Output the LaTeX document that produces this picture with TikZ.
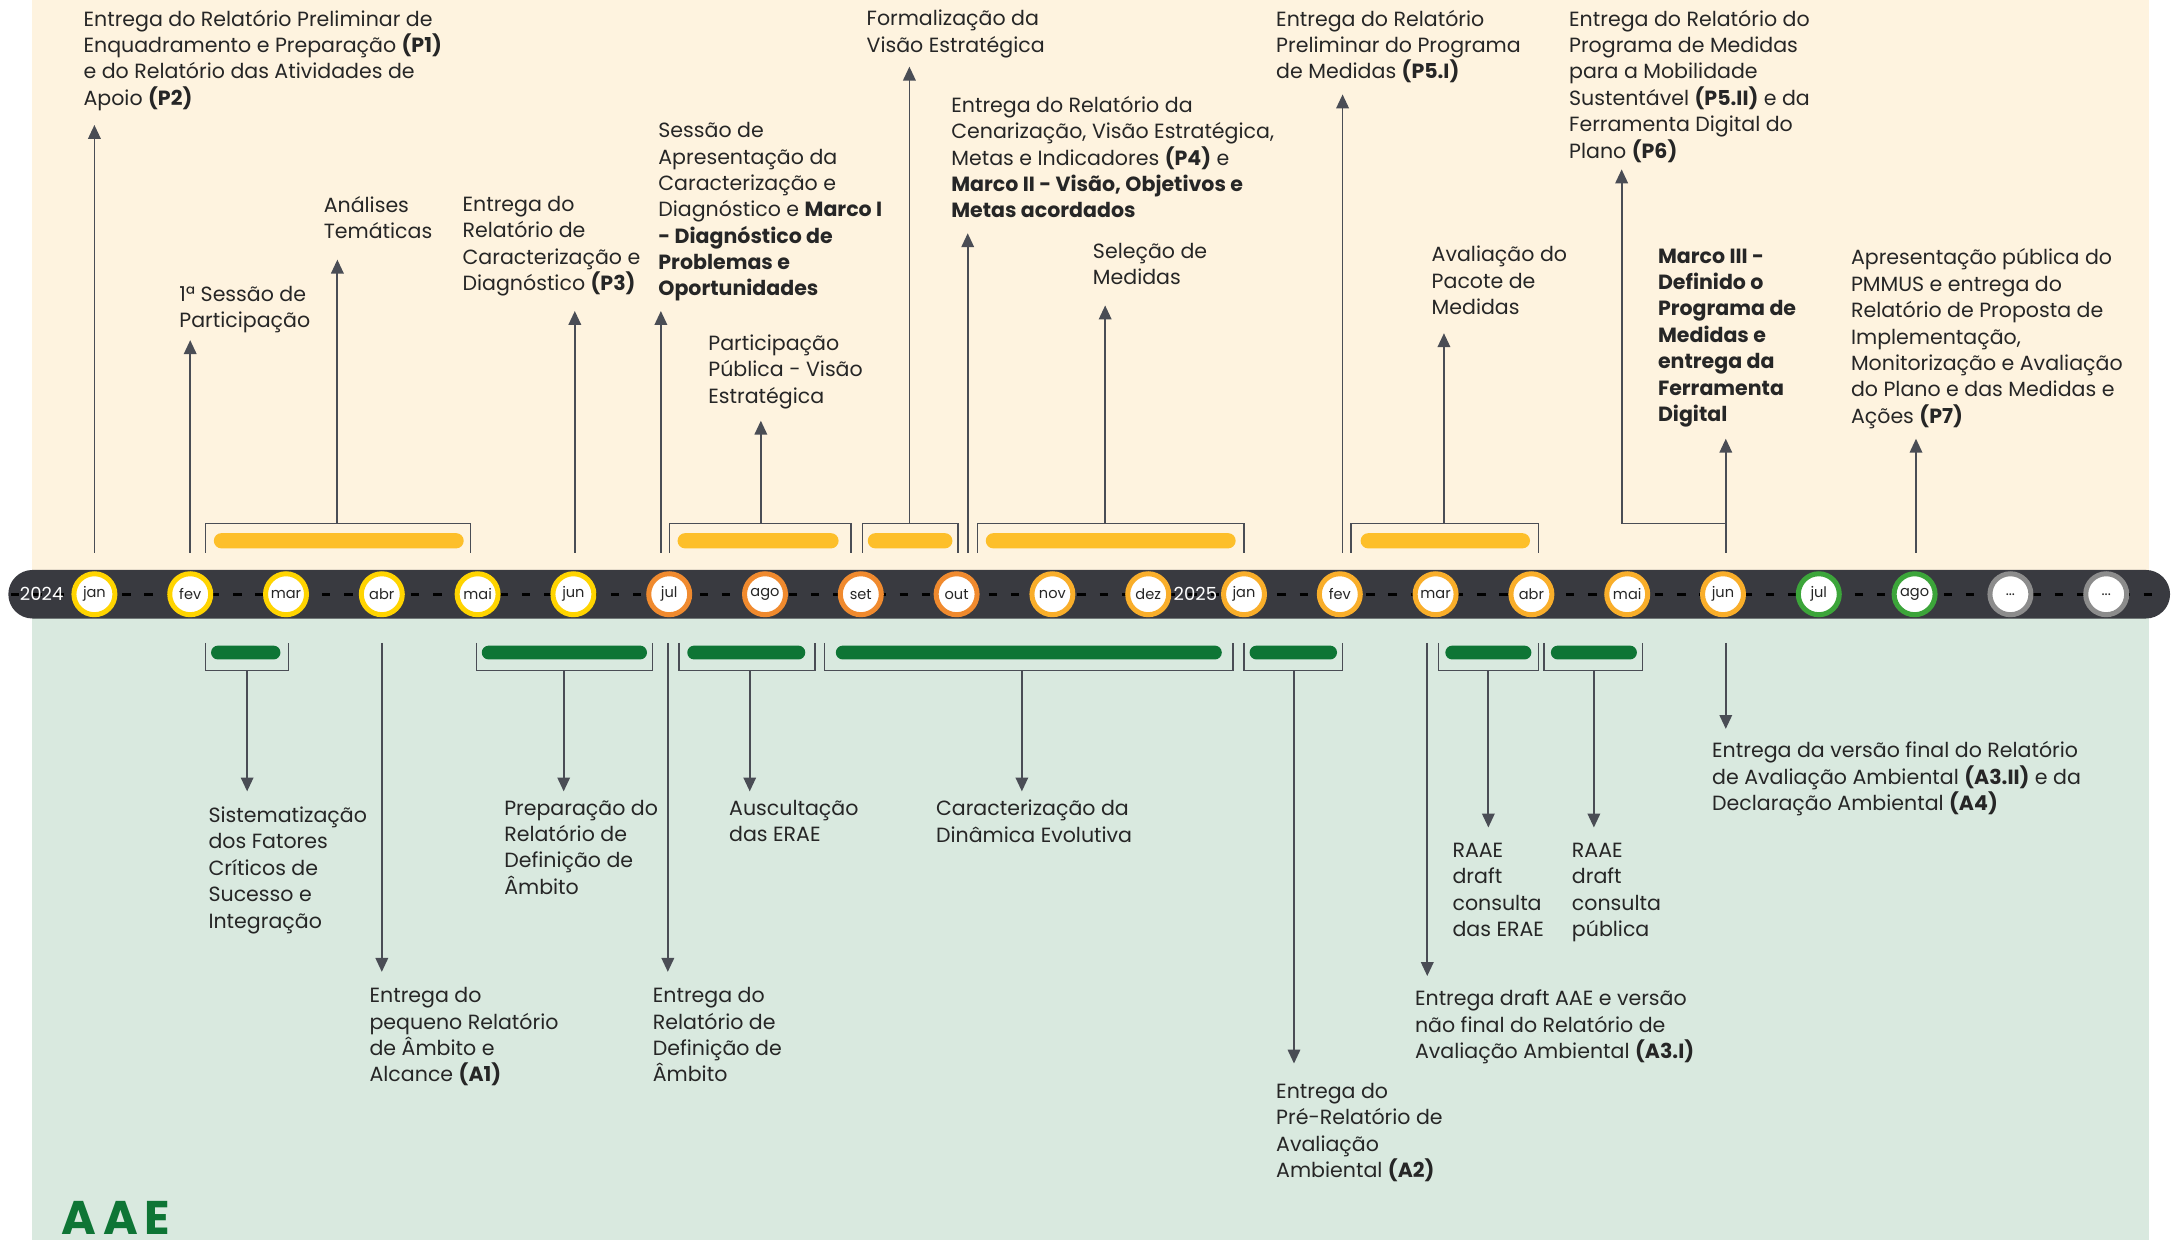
\documentclass[tikz,border=0pt]{standalone}
\usepackage{fontspec}
\setmainfont{Poppins}
\usetikzlibrary{arrows.meta,positioning,calc}
\definecolor{cream}{HTML}{FEF3DF}
\definecolor{mint}{HTML}{D9E9DF}
\definecolor{road}{HTML}{393A40}
\definecolor{lin}{HTML}{4A4D55}
\definecolor{txt}{HTML}{262626}
\definecolor{gold}{HTML}{FDBF2A}
\definecolor{leaf}{HTML}{0E7535}
\definecolor{cYel}{HTML}{FFD400}
\definecolor{cOra}{HTML}{F08A2E}
\definecolor{cAmb}{HTML}{F9AE2A}
\definecolor{cGre}{HTML}{3CA53A}
\definecolor{cGry}{HTML}{8C8C8C}
\newcommand{\moredots}{...}
\tikzstyle{lbl}=[anchor=north west, align=left, inner sep=0pt, text=txt, font=\fontsize{14.8}{19}\selectfont]
\tikzstyle{arr}=[draw=lin, line width=1.3pt, -{Triangle[width=9pt,length=10pt]}]
\tikzstyle{brk}=[draw=lin, line width=1pt]
\tikzstyle{month}=[circle, fill=white, line width=3.6pt, minimum size=29.5pt, inner sep=0pt, text=txt, font=\fontsize{10.5}{10.5}\selectfont]
\tikzstyle{yr}=[text=white, inner sep=0pt, font=\fontsize{13}{13}\selectfont]

\begin{document}
\begin{tikzpicture}[x=1pt,y=-1pt]
\useasboundingbox (0,0) rectangle (1568,893);
% backgrounds
\fill[cream](23,0)rectangle(1548,412);
\fill[mint](23,443)rectangle(1548,893);
% timeline
\fill[road, rounded corners=17.5pt](6,410.5)rectangle(1563,445.5);
\draw[black, line width=2pt, dash pattern=on 6pt off 10pt](8,428)--(1560,428);
\node[yr](y24)at(30,428){2024};
\node[yr](y25)at(861,428){2025};
\foreach \m/\c [count=\i from 0] in {jan/cYel,fev/cYel,mar/cYel,abr/cYel,mai/cYel,jun/cYel,jul/cOra,ago/cOra,set/cOra,out/cOra,nov/cAmb,dez/cAmb,jan/cAmb,fev/cAmb,mar/cAmb,abr/cAmb,mai/cAmb,jun/cAmb,jul/cGre,ago/cGre,\moredots/cGry,\moredots/cGry}
  \node[month, draw=\c](m\i)at(68+69*\i,428){\m};

% brackets above
\foreach \a/\b/\p/\q in {148/339/154/334, 482/613/488/604, 621/690/625/686, 704/896/710/890, 973/1108/980/1102}{
  \draw[brk](\a,398)--(\a,377)--(\b,377)--(\b,398);
  \fill[gold, rounded corners=5.5pt](\p,384)rectangle(\q,395);
}
% brackets below
\foreach \a/\b/\p/\q in {148/208/152/202, 343/470/347/466, 489/587/495/580, 594/888/602/880, 896/967/900/963, 1036/1108/1041/1103, 1112/1183/1117/1179}{
  \draw[brk](\a,463)--(\a,483)--(\b,483)--(\b,463);
  \fill[leaf, rounded corners=5pt](\p,465)rectangle(\q,475);
}

% labels above
\node[lbl](u1)at(60,7){Entrega do Relatório Preliminar de\\Enquadramento e Preparação \textbf{(P1)}\\e do Relatório das Atividades de\\Apoio \textbf{(P2)}};
\node[lbl](u2)at(129,206){1ª Sessão de\\Participação};
\node[lbl](u3)at(233,141){Análises\\Temáticas};
\node[lbl](u4)at(333,141){Entrega do\\Relatório de\\Caracterização e\\Diagnóstico \textbf{(P3)}};
\node[lbl](u5)at(474,88){Sessão de\\Apresentação da\\Caracterização e\\Diagnóstico e \textbf{Marco I}\\\textbf{- Diagnóstico de}\\\textbf{Problemas e}\\\textbf{Oportunidades}};
\node[lbl](u6)at(510,241){Participação\\Pública - Visão\\Estratégica};
\node[lbl](u7)at(624,7){Formalização da\\Visão Estratégica};
\node[lbl](u8)at(685,69){Entrega do Relatório da\\Cenarização, Visão Estratégica,\\Metas e Indicadores \textbf{(P4)} e\\\textbf{Marco II - Visão, Objetivos e}\\\textbf{Metas acordados}};
\node[lbl](u9)at(787,175){Seleção de\\Medidas};
\node[lbl](u10)at(919,7){Entrega do Relatório\\Preliminar do Programa\\de Medidas \textbf{(P5.I)}};
\node[lbl](u11)at(1031,177){Avaliação do\\Pacote de\\Medidas};
\node[lbl](u12)at(1130,7){Entrega do Relatório do\\Programa de Medidas\\para a Mobilidade\\Sustentável \textbf{(P5.II)} e da\\Ferramenta Digital do\\Plano \textbf{(P6)}};
\node[lbl, font=\fontsize{14.8}{19}\selectfont\bfseries](u13)at(1194,179){Marco III -\\Definido o\\Programa de\\Medidas e\\entrega da\\Ferramenta\\Digital};
\node[lbl](u14)at(1333,179){Apresentação pública do\\PMMUS e entrega do\\Relatório de Proposta de\\Implementação,\\Monitorização e Avaliação\\do Plano e das Medidas e\\Ações \textbf{(P7)}};

% labels below
\node[lbl](d1)at(150,581){Sistematização\\dos Fatores\\Críticos de\\Sucesso e\\Integração};
\node[lbl](d2)at(266,711){Entrega do\\pequeno Relatório\\de Âmbito e\\Alcance \textbf{(A1)}};
\node[lbl](d3)at(363,576){Preparação do\\Relatório de\\Definição de\\Âmbito};
\node[lbl](d4)at(470,711){Entrega do\\Relatório de\\Definição de\\Âmbito};
\node[lbl](d5)at(525,576){Auscultação\\das ERAE};
\node[lbl](d6)at(674,576){Caracterização da\\Dinâmica Evolutiva};
\node[lbl](d7)at(919,780){Entrega do\\Pré-Relatório de\\Avaliação\\Ambiental \textbf{(A2)}};
\node[lbl](d8)at(1019,713){Entrega draft AAE e versão\\não final do Relatório de\\Avaliação Ambiental \textbf{(A3.I)}};
\node[lbl](d9)at(1046,607){RAAE\\draft\\consulta\\das ERAE};
\node[lbl](d10)at(1132,607){RAAE\\draft\\consulta\\pública};
\node[lbl](d11)at(1233,534){Entrega da versão final do Relatório\\de Avaliação Ambiental \textbf{(A3.II)} e da\\Declaração Ambiental \textbf{(A4)}};

% arrows up
\foreach \x/\s/\e [count=\i] in {68/398/90, 137/398/245, 243/377/187, 414/398/224, 476/398/224, 548/377/303, 655/377/48, 697/398/168, 796/377/220, 967/398/68, 1040/377/240, 1243/398/316, 1380/398/316}{
  \coordinate(us\i)at(\x,\s);
  \coordinate(ue\i)at(\x,\e);
  \draw[arr](us\i)--(ue\i);
}
\coordinate(k1)at(1243,377);
\coordinate(k2)at(1168,122);
\draw[arr](k1)-|(k2);
% arrows down
\foreach \x/\s/\e [count=\i] in {178/483/570, 275/463/700, 406/483/570, 481/463/700, 540/483/570, 736/483/570, 932/483/766, 1028/463/703, 1072/483/596, 1148/483/596, 1243/463/525}{
  \coordinate(ds\i)at(\x,\s);
  \coordinate(de\i)at(\x,\e);
  \draw[arr](ds\i)--(de\i);
}

\node[anchor=north west, inner sep=0pt, text=leaf, font=\fontsize{34}{34}\selectfont\bfseries](aae)at(44,865){A\kern5pt A\kern5pt E};
\end{tikzpicture}
\end{document}
